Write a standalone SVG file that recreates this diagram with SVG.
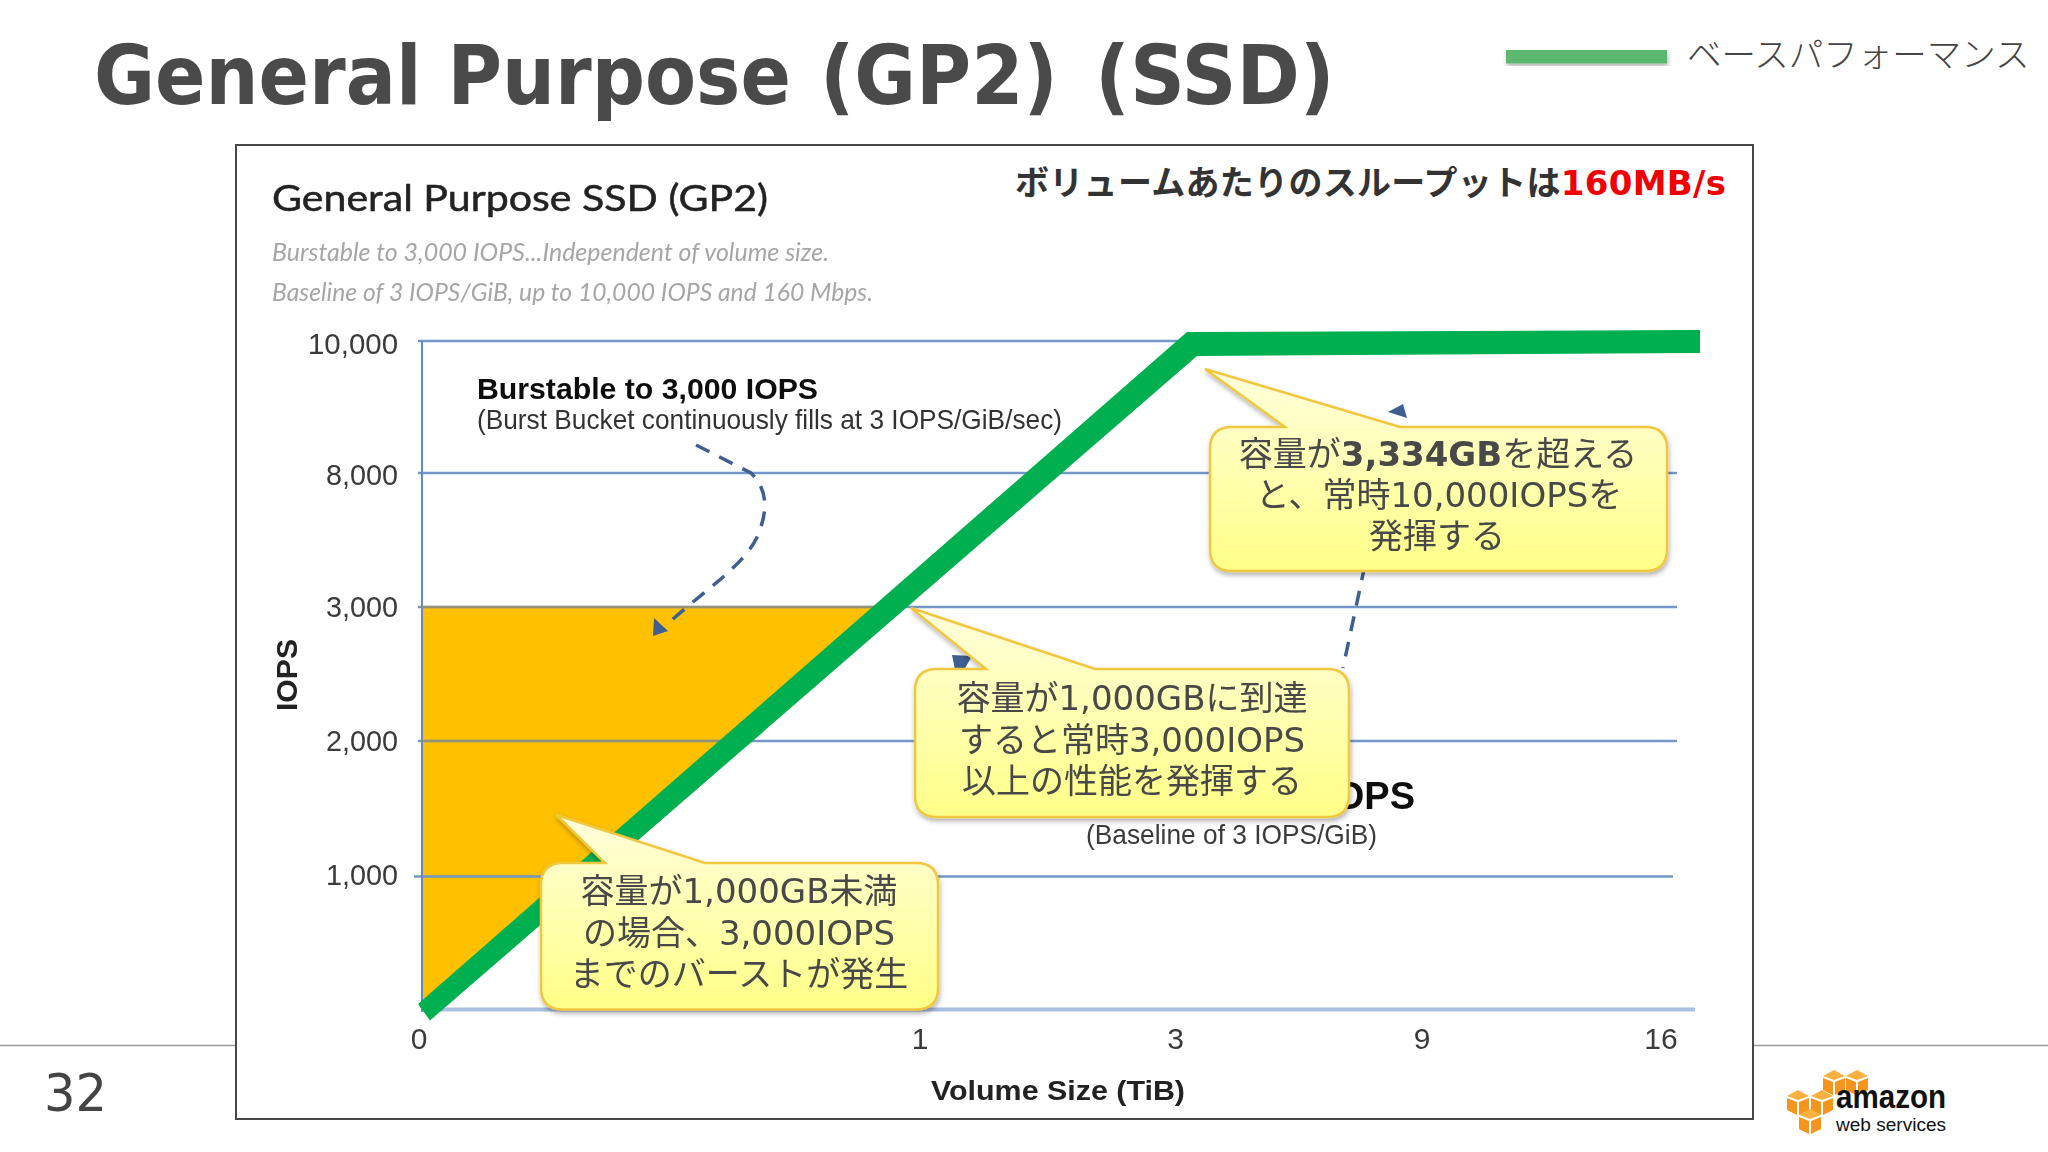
<svg xmlns="http://www.w3.org/2000/svg" xmlns:xlink="http://www.w3.org/1999/xlink" width="2048" height="1152" viewBox="0 0 2048 1152">
<style>
.jp{font-family:"DejaVu Sans","Noto Sans CJK JP",sans-serif}
.ar{font-family:"Liberation Sans",Arial,sans-serif}
.tick{font-size:30px;fill:#3a3a3a;text-anchor:end}
.xt{font-size:30px;fill:#3a3a3a;text-anchor:middle}
.sub{font-family:Lato,sans-serif;font-style:italic;font-size:25px;fill:#a6a6a6}
.co{font-size:34px;fill:#484848;text-anchor:middle}
.b{font-weight:700}
.ttl{font-family:"DejaVu Sans",sans-serif;font-weight:700;font-size:82px;fill:#4a4a4a}
.grid{stroke:#7397c9;stroke-width:2.5;fill:none}
.call{fill:url(#cg);stroke:#f2c740;stroke-width:2.5;filter:url(#sh)}
.dash{fill:none;stroke:#3f5f90;stroke-width:3.5;stroke-dasharray:15 11}
.head{fill:#3f5f90}
</style>
<defs>
<linearGradient id="cg" x1="0" y1="0" x2="0" y2="1"><stop offset="0" stop-color="#ffffdc"/><stop offset="1" stop-color="#ffff88"/></linearGradient>
<filter id="sh" x="-10%" y="-10%" width="120%" height="125%"><feDropShadow dx="1" dy="3" stdDeviation="2.5" flood-color="#000" flood-opacity=".3"/></filter>
<filter id="soft"><feGaussianBlur stdDeviation="0.45"/></filter>
<g id="cube">
<path d="M0 6L11 0L22 6L11 10Z" fill="#fbb040"/>
<path d="M0 8L10 12V25L0 20Z" fill="#f7941d"/>
<path d="M12 12L22 8V20L12 25Z" fill="#f7941d"/>
</g>
</defs>
<rect width="2048" height="1152" fill="#fff"/>
<g id="footer">
<path d="M0 1045.5H236M1753 1045.5H2048" stroke="#9a9a9a" stroke-width="1.5"/>
<text x="44" y="1111" font-family="DejaVu Sans,sans-serif" font-size="52" fill="#444" textLength="63" lengthAdjust="spacingAndGlyphs">32</text>
</g>
<g id="title">
<text class="ttl" transform="translate(94,104) scale(.908,1)">General Purpose</text>
<text class="ttl" transform="translate(820,104) scale(.917,1)">(GP2)</text>
<text class="ttl" transform="translate(1095,104) scale(.931,1)">(SSD)</text>
</g>
<g id="legend">
<rect x="1506" y="50" width="161" height="13.5" fill="#5cb870" filter="url(#sh)"/>
<text x="1687" y="67" font-family="Noto Sans CJK JP,sans-serif" font-weight="300" font-size="34.500" fill="#444">ベースパフォーマンス</text>
</g>
<rect id="frame" x="236" y="145" width="1517" height="974" fill="#fff" stroke="#484848" stroke-width="2"/>
<g id="chart-heading" filter="url(#soft)">
<text x="272" y="211" font-family="Lato,sans-serif" font-size="37" fill="#222" stroke="#222" stroke-width=".5" textLength="496" lengthAdjust="spacingAndGlyphs">General Purpose SSD (GP2)</text>
<text class="sub" x="272" y="261" textLength="557" lengthAdjust="spacingAndGlyphs">Burstable to 3,000 IOPS...Independent of volume size.</text>
<text class="sub" x="272" y="301" textLength="601" lengthAdjust="spacingAndGlyphs">Baseline of 3 IOPS/GiB, up to 10,000 IOPS and 160 Mbps.</text>
</g>
<text id="throughput" class="jp b" x="1015" y="195" font-size="34" fill="#333" textLength="711">ボリュームあたりのスループットは<tspan fill="#f00000">160MB/s</tspan></text>
<g id="plot">
<path d="M422 607H885L430 1010H422Z" fill="#ffc000"/>
<path class="grid" d="M418 341H1200M418 473H1677M418 607H1677M418 741H1677" />
<path class="grid" stroke-width="2" d="M414 876.5H1673"/>
<path d="M422 1009.5H1695" stroke="#a9c0e0" stroke-width="4"/>
<path d="M422 341V1012" stroke="#5f8cc4" stroke-width="2" fill="none"/>
<path d="M422 607H880M422 741H720" stroke="#b08f30" stroke-width="2.5" opacity=".55"/>
<polygon id="iops-line" points="418,1004 1187,332 1700,330 1700,353 1197,356 430,1020.5" fill="#00b050"/>
</g>
<g id="chart-labels" class="ar" filter="url(#soft)">
<text class="tick" x="398" y="354" textLength="90" lengthAdjust="spacingAndGlyphs">10,000</text>
<text class="tick" x="398" y="485" textLength="72" lengthAdjust="spacingAndGlyphs">8,000</text>
<text class="tick" x="398" y="617" textLength="72" lengthAdjust="spacingAndGlyphs">3,000</text>
<text class="tick" x="398" y="751" textLength="72" lengthAdjust="spacingAndGlyphs">2,000</text>
<text class="tick" x="398" y="885" textLength="72" lengthAdjust="spacingAndGlyphs">1,000</text>
<text class="b" transform="translate(297,711) rotate(-90)" font-size="30" fill="#222" textLength="72" lengthAdjust="spacingAndGlyphs">IOPS</text>
<text class="xt" x="419" y="1049">0</text>
<text class="xt" x="920" y="1049">1</text>
<text class="xt" x="1175.500" y="1049">3</text>
<text class="xt" x="1422" y="1049">9</text>
<text class="xt" x="1661" y="1049">16</text>
<text class="b" x="931" y="1099.500" font-size="28" fill="#222" textLength="254" lengthAdjust="spacingAndGlyphs">Volume Size (TiB)</text>
<text class="b" x="477" y="398.500" font-size="30" fill="#111" textLength="341" lengthAdjust="spacingAndGlyphs">Burstable to 3,000 IOPS</text>
<text x="477" y="429" font-size="28" fill="#333" textLength="585" lengthAdjust="spacingAndGlyphs">(Burst Bucket continuously fills at 3 IOPS/GiB/sec)</text>
<text class="b" x="1415" y="808.500" font-size="38" fill="#111" text-anchor="end">IOPS</text>
<text x="1086" y="844" font-size="28" fill="#3a3a3a" textLength="291" lengthAdjust="spacingAndGlyphs">(Baseline of 3 IOPS/GiB)</text>
</g>
<g id="connectors">
<path class="dash" d="M696 445L751 473C768 490 768 510 758 535C745 565 705 590 672 620"/>
<polygon class="head" points="653,636 654,618 668,631"/>
<path class="dash" d="M1370 540L1366 560L1343 668"/>
<polygon class="head" points="1388,412 1403,404 1407,418"/>
<polygon class="head" points="952,655 972,656 964,670 955,670"/>
</g>
<g id="callout-top">
<path class="call" d="M1232 427H1285L1205 369L1400 427H1645Q1667 427 1667 449V549Q1667 571 1645 571H1232Q1210 571 1210 549V449Q1210 427 1232 427Z"/>
<text class="jp co" x="1438" y="466">容量が<tspan class="b">3,334GB</tspan>を超える</text>
<text class="jp co" x="1439" y="507">と、常時10,000IOPSを</text>
<text class="jp co" x="1437" y="548">発揮する</text>
</g>
<g id="callout-mid">
<path class="call" d="M937 669H986L911 608L1095 669H1327Q1349 669 1349 691V795Q1349 817 1327 817H937Q915 817 915 795V691Q915 669 937 669Z"/>
<text class="jp co" x="1132" y="710">容量が1,000GBに到達</text>
<text class="jp co" x="1132" y="751.500">すると常時3,000IOPS</text>
<text class="jp co" x="1132" y="793">以上の性能を発揮する</text>
</g>
<g id="callout-low">
<path class="call" d="M563 863H605L556.500 815L705 863H916Q938 863 938 885V987.500Q938 1009.500 916 1009.500H563Q541 1009.500 541 987.500V885Q541 863 563 863Z"/>
<text class="jp co" x="739" y="903">容量が1,000GB未満</text>
<text class="jp co" x="739" y="944.500">の場合、3,000IOPS</text>
<text class="jp co" x="739" y="986">までのバーストが発生</text>
</g>
<g id="aws-logo">
<use xlink:href="#cube" href="#cube" x="1823" y="1070"/>
<use xlink:href="#cube" href="#cube" x="1846" y="1070"/>
<use xlink:href="#cube" href="#cube" x="1787" y="1090"/>
<use xlink:href="#cube" href="#cube" x="1811" y="1090"/>
<use xlink:href="#cube" href="#cube" x="1799" y="1109"/>
<text x="1836" y="1108" font-family="Liberation Sans,sans-serif" font-weight="700" font-size="33" fill="#111" textLength="110" lengthAdjust="spacingAndGlyphs">amazon</text>
<text x="1836" y="1131" font-family="Liberation Sans,sans-serif" font-size="18" fill="#111" textLength="110" lengthAdjust="spacingAndGlyphs">web services</text>
</g>
</svg>
